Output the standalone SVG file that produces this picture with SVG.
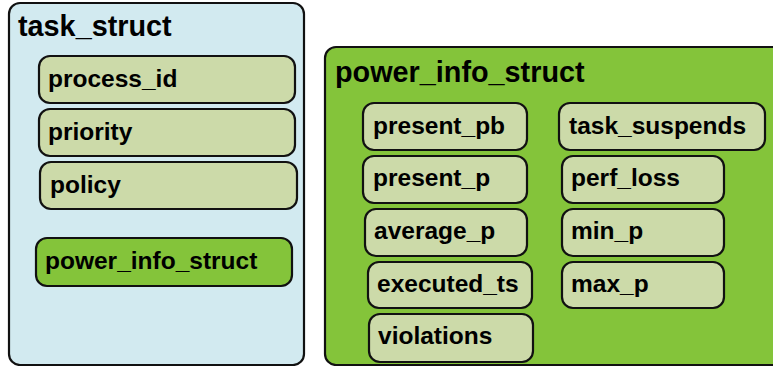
<svg xmlns="http://www.w3.org/2000/svg" width="773" height="366" viewBox="0 0 773 366">
  <style>
    .outer { stroke: #111; stroke-width: 2.2; }
    .task { fill: #d2eaf0; }
    .power { fill: #84c43a; }
    .field { fill: #ccdaa9; stroke: #111; stroke-width: 2.2; }
    .field-power { fill: #84c43a; stroke: #111; stroke-width: 2.2; }
    .title { font-family: "Liberation Sans", Arial, sans-serif; font-weight: bold; font-size: 28.8px; fill: #000; }
    .label { font-family: "Liberation Sans", Arial, sans-serif; font-weight: bold; font-size: 24.5px; fill: #000; }
  </style>
  <rect width="773" height="366" fill="#fff"/>

  <!-- task_struct container -->
  <g id="task_struct">
    <rect class="outer task" x="9" y="3" width="295" height="362" rx="11"/>
    <text class="title" x="18" y="36">task_struct</text>
    <g id="process_id">
      <rect class="field" x="39" y="56" width="256" height="47" rx="11"/>
      <text class="label" x="48" y="87">process_id</text>
    </g>
    <g id="priority">
      <rect class="field" x="39" y="109" width="256" height="47" rx="11"/>
      <text class="label" x="48" y="140">priority</text>
    </g>
    <g id="policy">
      <rect class="field" x="40" y="162" width="257" height="47" rx="11"/>
      <text class="label" x="50" y="193">policy</text>
    </g>
    <g id="power_info_ref">
      <rect class="field-power" x="36" y="238" width="256" height="48" rx="11"/>
      <text class="label" x="45" y="269">power_info_struct</text>
    </g>
  </g>

  <!-- power_info_struct container -->
  <g id="power_info_struct">
    <rect class="outer power" x="325" y="47" width="470" height="318" rx="11"/>
    <text class="title" x="335" y="82">power_info_struct</text>
    <g id="present_pb">
      <rect class="field" x="363" y="103" width="164" height="47" rx="11"/>
      <text class="label" x="373" y="134">present_pb</text>
    </g>
    <g id="present_p">
      <rect class="field" x="363" y="156" width="164" height="47" rx="11"/>
      <text class="label" x="373" y="186">present_p</text>
    </g>
    <g id="average_p">
      <rect class="field" x="365" y="209" width="162" height="47" rx="11"/>
      <text class="label" x="374" y="239">average_p</text>
    </g>
    <g id="executed_ts">
      <rect class="field" x="368" y="262" width="164" height="46" rx="11"/>
      <text class="label" x="377" y="292">executed_ts</text>
    </g>
    <g id="violations">
      <rect class="field" x="369" y="314" width="164" height="48" rx="11"/>
      <text class="label" x="378" y="344">violations</text>
    </g>
    <g id="task_suspends">
      <rect class="field" x="559" y="103" width="206" height="47" rx="11"/>
      <text class="label" x="569" y="134">task_suspends</text>
    </g>
    <g id="perf_loss">
      <rect class="field" x="562" y="156" width="162" height="47" rx="11"/>
      <text class="label" x="571" y="186">perf_loss</text>
    </g>
    <g id="min_p">
      <rect class="field" x="562" y="209" width="162" height="47" rx="11"/>
      <text class="label" x="571" y="239">min_p</text>
    </g>
    <g id="max_p">
      <rect class="field" x="562" y="262" width="162" height="46" rx="11"/>
      <text class="label" x="571" y="292">max_p</text>
    </g>
  </g>

  <g id="connectors"/>
</svg>
